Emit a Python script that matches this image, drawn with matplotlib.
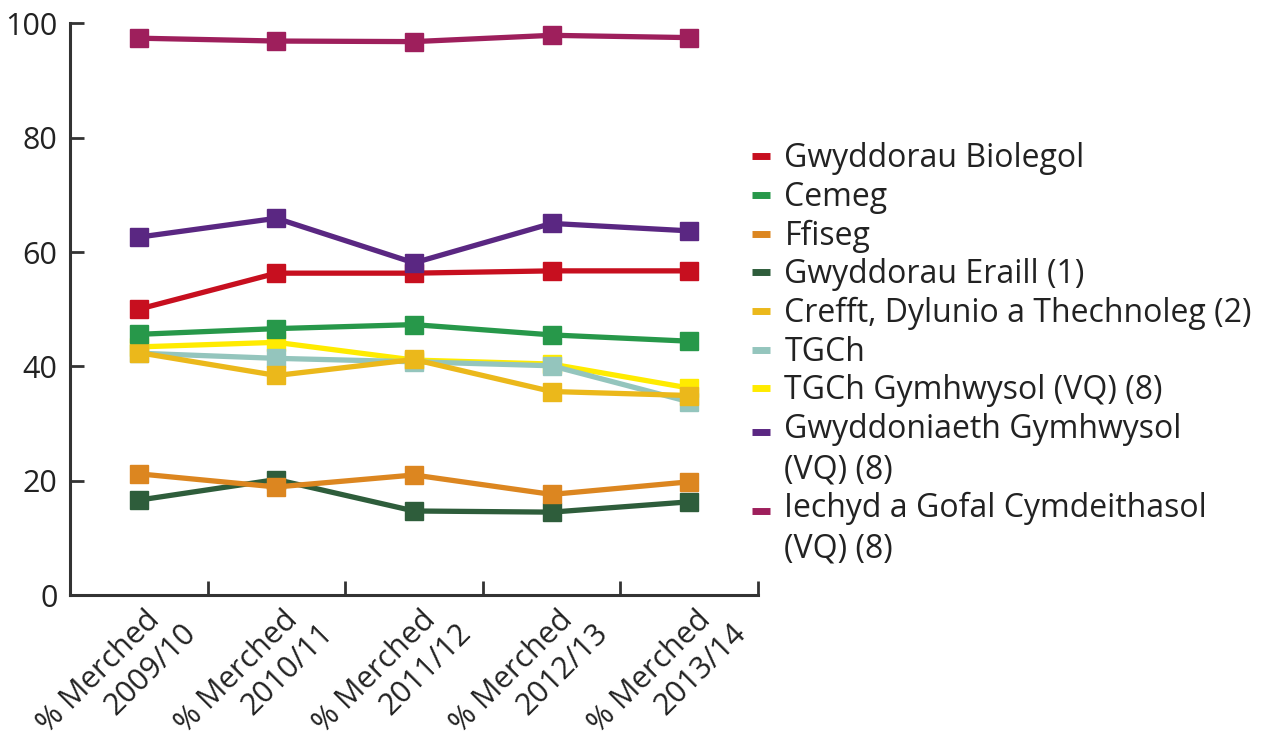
import numpy as np
import matplotlib.pyplot as plt
import matplotlib.transforms as mtransforms

plt.rcParams['font.family'] = ['Open Sans', 'DejaVu Sans']

years = ['2009/10', '2010/11', '2011/12', '2012/13', '2013/14']
# trailing spaces nudge the first line back a little, like the original
tick_labels = ['% Merched  \n' + y for y in years]

# % girls per subject
biolegol = [50.0, 56.3, 56.3, 56.7, 56.7]
cemeg = [45.6, 46.6, 47.3, 45.5, 44.4]
ffiseg = [21.2, 18.9, 21.0, 17.6, 19.8]
eraill = [16.6, 20.2, 14.7, 14.5, 16.3]
crefft = [42.4, 38.4, 41.2, 35.6, 34.9]
tgch = [42.3, 41.4, 40.8, 40.1, 33.8]
tgch_vq = [43.4, 44.2, 41.1, 40.4, 36.2]
gwyddoniaeth_vq = [62.6, 65.9, 58.1, 65.0, 63.7]
iechyd_vq = [97.4, 96.9, 96.8, 97.9, 97.5]

series = [
    ('Gwyddorau Biolegol', biolegol, '#c70f1f', 5),
    ('Cemeg', cemeg, '#27984a', 5),
    ('Ffiseg', ffiseg, '#dc8620', 4),
    ('Gwyddorau Eraill (1)', eraill, '#2e5d3b', 3),
    ('Crefft, Dylunio a Thechnoleg (2)', crefft, '#ebb81b', 4),
    ('TGCh', tgch, '#94c5bd', 3),
    ('TGCh Gymhwysol (VQ) (8)', tgch_vq, '#ffeb00', 2),
    ('Gwyddoniaeth Gymhwysol\n(VQ) (8)', gwyddoniaeth_vq, '#5a2782', 5),
    ('Iechyd a Gofal Cymdeithasol\n(VQ) (8)', iechyd_vq, '#9e1f5c', 5),
]

fig = plt.figure(figsize=(12.77, 7.45), dpi=100)
ax = fig.add_axes([0.0548, 0.2013, 0.5388, 0.7674])

x = np.arange(len(years)) + 0.5
for name, vals, col, z in series:
    ax.plot(x, vals, color=col, lw=3.8, marker='s', markersize=12.5,
            label=name, zorder=z)

ax.set_xlim(0, 5)
ax.set_ylim(0, 100)
ax.set_yticks([0, 20, 40, 60, 80, 100])
ax.set_xticks([1, 2, 3, 4, 5])
ax.set_xticklabels([])
ax.set_xticks(x, minor=True)
ax.set_xticklabels(tick_labels, minor=True, rotation=45, ha='right', va='top',
                   fontsize=22, color='#222222', multialignment='right',
                   linespacing=1.2)
ax.tick_params(axis='x', which='minor', length=0, pad=2)
ax.tick_params(axis='x', which='major', direction='in', length=10, width=2, color='#333333')
ax.tick_params(axis='y', direction='in', length=10, width=2, color='#333333',
               labelsize=22, labelcolor='#222222', pad=9)

offset = mtransforms.ScaledTranslation(0.63, 0.04, fig.dpi_scale_trans)
for lab in ax.get_xticklabels(minor=True):
    lab.set_transform(lab.get_transform() + offset)

for s in ['top', 'right']:
    ax.spines[s].set_visible(False)
for s in ['left', 'bottom']:
    ax.spines[s].set_linewidth(2.2)
    ax.spines[s].set_color('#333333')

leg = ax.legend(loc='upper left', bbox_to_anchor=(0.5885, 0.809),
                bbox_transform=fig.transFigure, frameon=False, fontsize=23,
                handlelength=0.58, handletextpad=0.45, labelspacing=0.175,
                borderpad=0, borderaxespad=0)
for h, t in zip(leg.legend_handles, leg.get_texts()):
    h.set_marker('')
    h.set_linewidth(5)
    h.set_solid_capstyle('butt')
    t.set_color('#222222')
    t.set_linespacing(1.3)
    # two-line labels: keep the swatch beside the first line
    if '\n' in t.get_text():
        h.set_ydata(np.asarray(h.get_ydata()) + 14)

fig.savefig('out.png', dpi=100)
